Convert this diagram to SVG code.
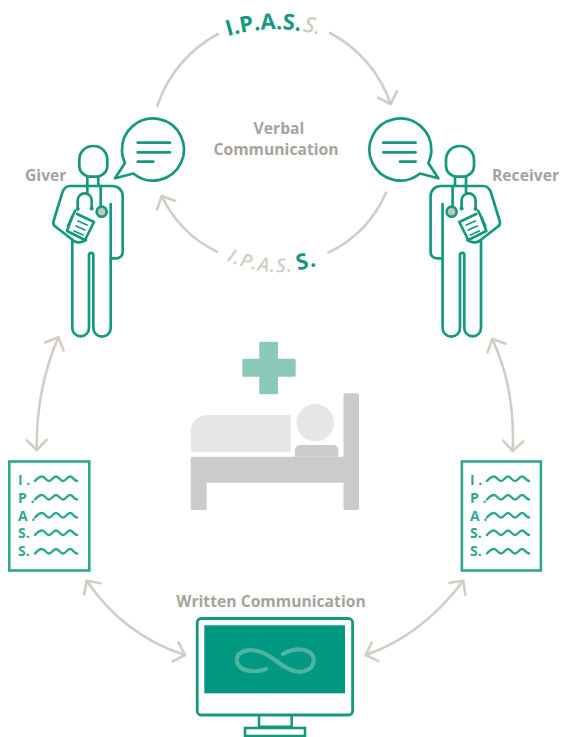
<svg xmlns="http://www.w3.org/2000/svg" width="561" height="737" viewBox="0 0 561 737">
<style>
.ln{fill:none;stroke:#14997f;stroke-width:2.7;stroke-linecap:round;stroke-linejoin:round}
.cn{fill:none;stroke:#d3cdc6;stroke-width:2.6;stroke-linecap:round}
.lb{font-family:"Open Sans","Liberation Sans",sans-serif;font-weight:700;fill:#a8a29d}
.dt{font-family:"Open Sans","Liberation Sans",sans-serif;font-weight:700;font-size:14px;fill:#2fa78f}
.wv{fill:none;stroke:#2fa78f;stroke-width:2.4;stroke-linecap:round}
.ip{font-family:"Open Sans","Liberation Sans",sans-serif}
.tl{fill:#14997f;font-weight:700}
.gr{fill:#d3cdc6;font-weight:600;font-style:italic}
.bed{fill:#cbcbcb}
.pale{fill:#e6e6e6}
</style>
<defs>
<marker id="ah" markerUnits="userSpaceOnUse" markerWidth="26" markerHeight="26" refX="13" refY="13" viewBox="0 0 26 26" orient="auto-start-reverse">
<path d="M3,3 L13,13 L3,23" fill="none" stroke="#d3cdc6" stroke-width="2.6" stroke-linecap="round" stroke-linejoin="round"/>
</marker>
<path id="wave" d="M0,2 c3,-3.5 4.5,-4.5 7,-4.5 c3,0 4,4.5 7,4.5 c3,0 4,-4.5 7,-4.5 c3,0 4,4.5 7,4.5 c3,0 4,-4.5 7,-4.5 c3,0 3,3.5 7,4.5"/>
<path id="tt" d="M222,38 A170 170 0 0 1 330,38"/>
<path id="bt" d="M224,259 A118 118 0 0 0 330,260"/>
<g id="doctor">
<path class="ln" d="M93.3,146 C101.5,146 107.3,152 107.3,160 V166 C107.3,172 102,176.7 96,176.7 H90.6 C84.6,176.7 79.3,172 79.3,166 V160 C79.3,152 85.1,146 93.3,146Z"/>
<path class="ln" d="M87.3,176.7 V186 M98.3,176.7 V186"/>
<path class="ln" d="M110.7,204 V328 a8.7,8.7 0 0 1 -17.4,0 V255 a2.15,2.15 0 0 0 -4.3,0 V328 a8.35,8.35 0 0 1 -16.7,0 V240"/>
<path class="ln" d="M110.7,258.3 H116.7 a6,6 0 0 0 6,-6 V196 a10,10 0 0 0 -10,-10 H70 Q65,186 62.5,192 L53.6,221 Q52.5,225 56,227 L74,241 Q78,243.5 83,241.5 L86,240"/>
<path class="ln" d="M77,214 L94,222 L85,240 L67,231 L72,217"/>
<path class="ln" d="M75,211 L68,226"/>
<path class="ln" style="stroke-width:1.8" d="M78,221 L87,225 M76,226 L85,230 M74,231 L83,235"/>
<path class="ln" d="M87.3,186 V193.3 M77.7,208 V200.3 a7,7 0 0 1 14,0 V208 M100.7,186 V206"/>
<circle cx="77.7" cy="209" r="2" fill="#14997f"/>
<circle cx="91.7" cy="208.5" r="2" fill="#14997f"/>
<circle class="ln" cx="101.7" cy="211.7" r="5" style="fill:#c9c3ba"/>
<path class="ln" d="M125,163 C122,156 122,152 122,150.7 A31,31 0 1 1 133.3,173.5 L115,178.3 Z"/>
<path class="ln" d="M137.7,142.7 H170 M137.7,152.3 H170 M137.7,161.7 H153.3"/>
</g>
</defs>
<rect width="561" height="737" fill="#fff"/>
<g id="connectors">
<path class="cn" d="M157.3,106 A126 126 0 0 1 218,34"/>
<path class="cn" marker-end="url(#ah)" d="M330,33 A126 126 0 0 1 390.7,104"/>
<path class="cn" marker-end="url(#ah)" d="M216.7,251.7 A120 120 0 0 1 161.7,196"/>
<path class="cn" d="M328.3,252.7 A120 120 0 0 0 386,192.7"/>
<path class="cn" marker-start="url(#ah)" marker-end="url(#ah)" d="M58.3,337.3 Q35.9,389.7 36.7,450"/>
<path class="cn" marker-start="url(#ah)" marker-end="url(#ah)" d="M492.3,339 Q515.5,388.4 512.7,451"/>
<path class="cn" marker-start="url(#ah)" marker-end="url(#ah)" d="M86.7,580.7 Q124,635.5 185,655"/>
<path class="cn" marker-start="url(#ah)" marker-end="url(#ah)" d="M463.3,580.7 Q422,635.5 365.7,655"/>
</g>
<g id="verbal-top"><text class="ip" font-size="22"><textPath href="#tt" startOffset="6"><tspan class="tl">I.P.A.S.</tspan><tspan class="gr" dx="2">S.</tspan></textPath></text></g>
<g id="verbal-bottom"><text class="ip" font-size="19" letter-spacing="1.3"><textPath href="#bt" startOffset="3"><tspan class="gr">I.P.A.S.</tspan><tspan class="tl" font-size="22" dx="4">S.</tspan></textPath></text></g>
<g id="verbal-label"><text class="lb" font-size="15.7" text-anchor="middle"><tspan x="279" y="134">Verbal</tspan><tspan x="276" y="155">Communication</tspan></text></g>
<g id="giver"><use href="#doctor"/><text class="lb" x="25" y="181" font-size="15.7">Giver</text></g>
<g id="receiver"><use href="#doctor" transform="translate(553.3,0) scale(-1,1)"/><text class="lb" x="492" y="181" font-size="15.7">Receiver</text></g>
<g id="patient">
<path d="M261,341.7 H276.5 a1.5,1.5 0 0 1 1.5,1.5 V358.7 H294.2 a1.5,1.5 0 0 1 1.5,1.5 V375.2 a1.5,1.5 0 0 1 -1.5,1.5 H278 V392.8 a1.5,1.5 0 0 1 -1.5,1.5 H260.8 a1.5,1.5 0 0 1 -1.5,-1.5 V376.7 H243.8 a1.5,1.5 0 0 1 -1.5,-1.5 V360.2 a1.5,1.5 0 0 1 1.5,-1.5 H259.3 V343.2 a1.5,1.5 0 0 1 1.7,-1.5Z" fill="#8ac9ba"/>
<path class="bed" d="M345,393.3 H357.5 a1.5,1.5 0 0 1 1.5,1.5 V508.5 a1.5,1.5 0 0 1 -1.5,1.5 H345 a1.5,1.5 0 0 1 -1.5,-1.5 V482.7 H206.7 V508.5 a1.5,1.5 0 0 1 -1.5,1.5 H192.2 a1.5,1.5 0 0 1 -1.5,-1.5 V458.2 a1.5,1.5 0 0 1 1.5,-1.5 H343.5 V395 a1.5,1.5 0 0 1 1.5,-1.7Z"/>
<path class="bed" d="M295,456.7 V450 a5,5 0 0 1 5,-5 H333.3 a5,5 0 0 1 5,5 V456.7Z"/>
<circle class="pale" cx="315.3" cy="422.7" r="18.7"/>
<path class="pale" d="M207,415 H290.7 V451.7 H192.2 a1.5,1.5 0 0 1 -1.5,-1.5 V431.3 A16.3,16.3 0 0 1 207,415Z"/>
</g>
<g id="doc-left">
<rect x="9.3" y="461.5" width="80" height="109" fill="none" stroke="#2fa78f" stroke-width="2.6"/>
<text class="dt" x="18" y="485">I .</text><text class="dt" x="18" y="502.5">P .</text><text class="dt" x="18" y="520.5">A .</text><text class="dt" x="18" y="538">S.</text><text class="dt" x="18" y="556">S.</text>
<use class="wv" href="#wave" x="35" y="479"/><use class="wv" href="#wave" x="35" y="497.5"/><use class="wv" href="#wave" x="35" y="515.5"/><use class="wv" href="#wave" x="35" y="533"/><use class="wv" href="#wave" x="35" y="551.5"/>
</g>
<g id="doc-right">
<rect x="461.9" y="461.5" width="79" height="109" fill="none" stroke="#2fa78f" stroke-width="2.6"/>
<text class="dt" x="470" y="485">I .</text><text class="dt" x="470" y="502.5">P .</text><text class="dt" x="470" y="520.5">A .</text><text class="dt" x="470" y="538">S.</text><text class="dt" x="470" y="556">S.</text>
<use class="wv" href="#wave" x="487" y="479"/><use class="wv" href="#wave" x="487" y="497.5"/><use class="wv" href="#wave" x="487" y="515.5"/><use class="wv" href="#wave" x="487" y="533"/><use class="wv" href="#wave" x="487" y="551.5"/>
</g>
<g id="monitor">
<text class="lb" x="271" y="606.5" font-size="15.7" text-anchor="middle">Written Communication</text>
<rect x="197.2" y="618.5" width="155.4" height="96.5" rx="4" fill="#fff" stroke="#14997f" stroke-width="2.8"/>
<rect x="204.3" y="625.3" width="140.7" height="68" fill="#009880"/>
<path d="M266,669 C259,672 249,672 243,669 C235,665 235,655 242,652 C250,648 262,650 275,660 C285,668 298,675 307,670 C316,666 316,654 307,651 C299,648 290,650 283,654" fill="none" stroke="#4fb3a1" stroke-width="4.2" stroke-linecap="round"/>
<path d="M259,716 V726.7 H291.7 V716" fill="none" stroke="#14997f" stroke-width="2.6"/>
<rect x="245" y="728" width="60" height="8" fill="#fff" stroke="#14997f" stroke-width="2.6"/>
</g>
</svg>
